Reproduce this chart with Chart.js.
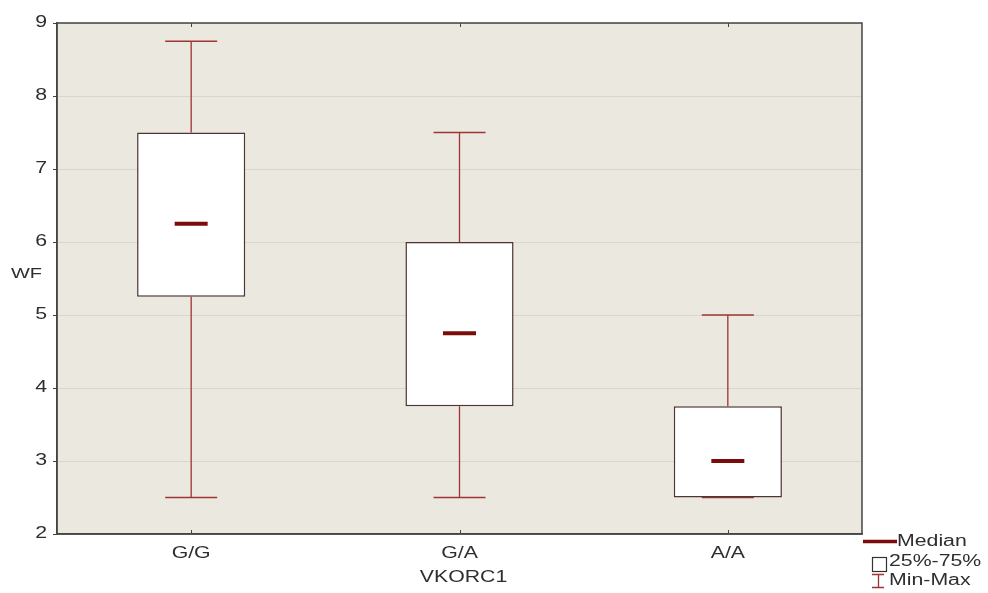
<!DOCTYPE html>
<html>
<head>
<meta charset="utf-8">
<script src="https://cdn.jsdelivr.net/npm/chart.js@4"></script>
<style>
html,body{margin:0;padding:0;background:#fff;}
#wrap{width:988px;height:593px;position:relative;}
</style>
</head>
<body>
<div id="wrap"><canvas id="c" width="988" height="593"></canvas></div>
<script>
const categories = ['G/G', 'G/A', 'A/A'];
const minVals    = [2.5, 2.5, 2.5];
const q1Vals     = [5.25, 3.75, 2.5];
const medianVals = [6.25, 4.75, 3.0];
const q3Vals     = [7.5, 6.0, 3.75];
const maxVals    = [8.75, 7.5, 5.0];
const yTicks     = [2, 3, 4, 5, 6, 7, 8, 9];
const xTitle = 'VKORC1';
const yTitle = 'WF';
const legendLabels = ['Median', '25%-75%', 'Min-Max'];

const FONT = '"Liberation Sans", Arial, sans-serif';
const boxColor = '#4e3434';
const whiskerColor = '#9e3434';
const medianColor = '#7a0c0c';
const textColor = '#2e2e2e';
const SX = 1.33; // horizontal text stretch seen in the reference

function stretchedText(ctx, txt, x, y, align) {
  ctx.save();
  ctx.textAlign = align;
  ctx.scale(SX, 1);
  ctx.fillText(txt, x / SX, y);
  ctx.restore();
}

const boxPlugin = {
  id: 'boxPlugin',
  beforeDraw(chart) {
    const {ctx, chartArea: a} = chart;
    ctx.save();
    ctx.fillStyle = '#ebe8df';
    ctx.fillRect(a.left, a.top, a.right - a.left, a.bottom - a.top);
    ctx.restore();
  },
  beforeDatasetsDraw(chart) {
    const {ctx, scales: {x, y}} = chart;
    ctx.save();
    ctx.strokeStyle = whiskerColor;
    ctx.lineWidth = 1.3;
    const capHalf = 26;
    categories.forEach((c, i) => {
      const cx = x.getPixelForValue(i);
      const yMin = y.getPixelForValue(minVals[i]);
      const yMax = y.getPixelForValue(maxVals[i]);
      const yQ1 = y.getPixelForValue(q1Vals[i]);
      const yQ3 = y.getPixelForValue(q3Vals[i]);
      ctx.beginPath();
      ctx.moveTo(cx, yMax); ctx.lineTo(cx, yQ3);
      ctx.moveTo(cx, yQ1); ctx.lineTo(cx, yMin);
      ctx.moveTo(cx - capHalf, yMax); ctx.lineTo(cx + capHalf, yMax);
      ctx.moveTo(cx - capHalf, yMin); ctx.lineTo(cx + capHalf, yMin);
      ctx.stroke();
    });
    ctx.restore();
  },
  afterDatasetsDraw(chart) {
    const {ctx, chartArea: a, scales: {x, y}} = chart;
    ctx.save();
    // medians
    ctx.strokeStyle = medianColor;
    ctx.lineWidth = 4;
    categories.forEach((c, i) => {
      const cx = x.getPixelForValue(i);
      const ym = y.getPixelForValue(medianVals[i]);
      ctx.beginPath();
      ctx.moveTo(cx - 16.5, ym); ctx.lineTo(cx + 16.5, ym);
      ctx.stroke();
    });
    // frame
    ctx.strokeStyle = '#444';
    ctx.lineWidth = 1.5;
    ctx.strokeRect(a.left, a.top, a.right - a.left, a.bottom - a.top);
    // x tick marks inward at bottom and top
    ctx.lineWidth = 1;
    categories.forEach((c, i) => {
      const cx = Math.round(x.getPixelForValue(i)) + 0.5;
      ctx.beginPath();
      ctx.moveTo(cx, a.bottom); ctx.lineTo(cx, a.bottom - 4);
      ctx.moveTo(cx, a.top); ctx.lineTo(cx, a.top + 4);
      ctx.stroke();
    });
    // tick labels placed by the chart's own scales
    ctx.fillStyle = textColor;
    ctx.textBaseline = 'middle';
    ctx.font = '16px ' + FONT;
    y.ticks.forEach(t => {
      stretchedText(ctx, String(t.value), a.left - 10, y.getPixelForValue(t.value), 'right');
    });
    x.getLabels().forEach((lbl, i) => {
      stretchedText(ctx, lbl, x.getPixelForValue(i), 554, 'center');
    });
    // titles
    ctx.font = '16px ' + FONT;
    stretchedText(ctx, xTitle, (a.left + a.right) / 2 + 4, 578, 'center');
    ctx.font = '15px ' + FONT;
    stretchedText(ctx, yTitle, 11, 274, 'left');
    // legend
    ctx.font = '16px ' + FONT;
    ctx.strokeStyle = medianColor;
    ctx.lineWidth = 3.5;
    ctx.beginPath(); ctx.moveTo(863, 541.5); ctx.lineTo(897, 541.5); ctx.stroke();
    stretchedText(ctx, legendLabels[0], 897, 541.5, 'left');
    ctx.strokeStyle = '#333';
    ctx.lineWidth = 1.2;
    ctx.strokeRect(872.5, 557.5, 14, 14);
    stretchedText(ctx, legendLabels[1], 889, 562, 'left');
    ctx.strokeStyle = whiskerColor;
    ctx.lineWidth = 1.3;
    ctx.beginPath();
    ctx.moveTo(872, 574.5); ctx.lineTo(884, 574.5);
    ctx.moveTo(878.5, 574.5); ctx.lineTo(878.5, 587.5);
    ctx.moveTo(872, 587.5); ctx.lineTo(884, 587.5);
    ctx.stroke();
    stretchedText(ctx, legendLabels[2], 889, 580.5, 'left');
    ctx.restore();
  }
};

new Chart(document.getElementById('c'), {
  type: 'bar',
  data: {
    labels: categories,
    datasets: [{
      label: '25%-75%',
      data: categories.map((c, i) => [q1Vals[i], q3Vals[i]]),
      backgroundColor: '#ffffff',
      borderColor: boxColor,
      borderWidth: 1.5,
      borderSkipped: false,
      categoryPercentage: 1,
      barPercentage: 0.403
    }]
  },
  options: {
    responsive: false,
    animation: false,
    layout: {padding: {top: 23, right: 126, left: 0, bottom: 0}},
    plugins: {legend: {display: false}, tooltip: {enabled: false}},
    scales: {
      x: {
        offset: true,
        grid: {display: false},
        border: {display: true, color: '#444', width: 1.5},
        ticks: {display: false},
        afterFit(s) { s.height = 59; }
      },
      y: {
        min: 2, max: 9,
        afterBuildTicks(s) { s.ticks = yTicks.map(v => ({value: v})); },
        grid: {color: '#d9d6cc', tickColor: '#444', tickLength: 4, lineWidth: 1},
        border: {display: true, color: '#444', width: 1.5},
        ticks: {display: false},
        afterFit(s) { s.width = 57; }
      }
    }
  },
  plugins: [boxPlugin]
});
</script>
</body>
</html>
